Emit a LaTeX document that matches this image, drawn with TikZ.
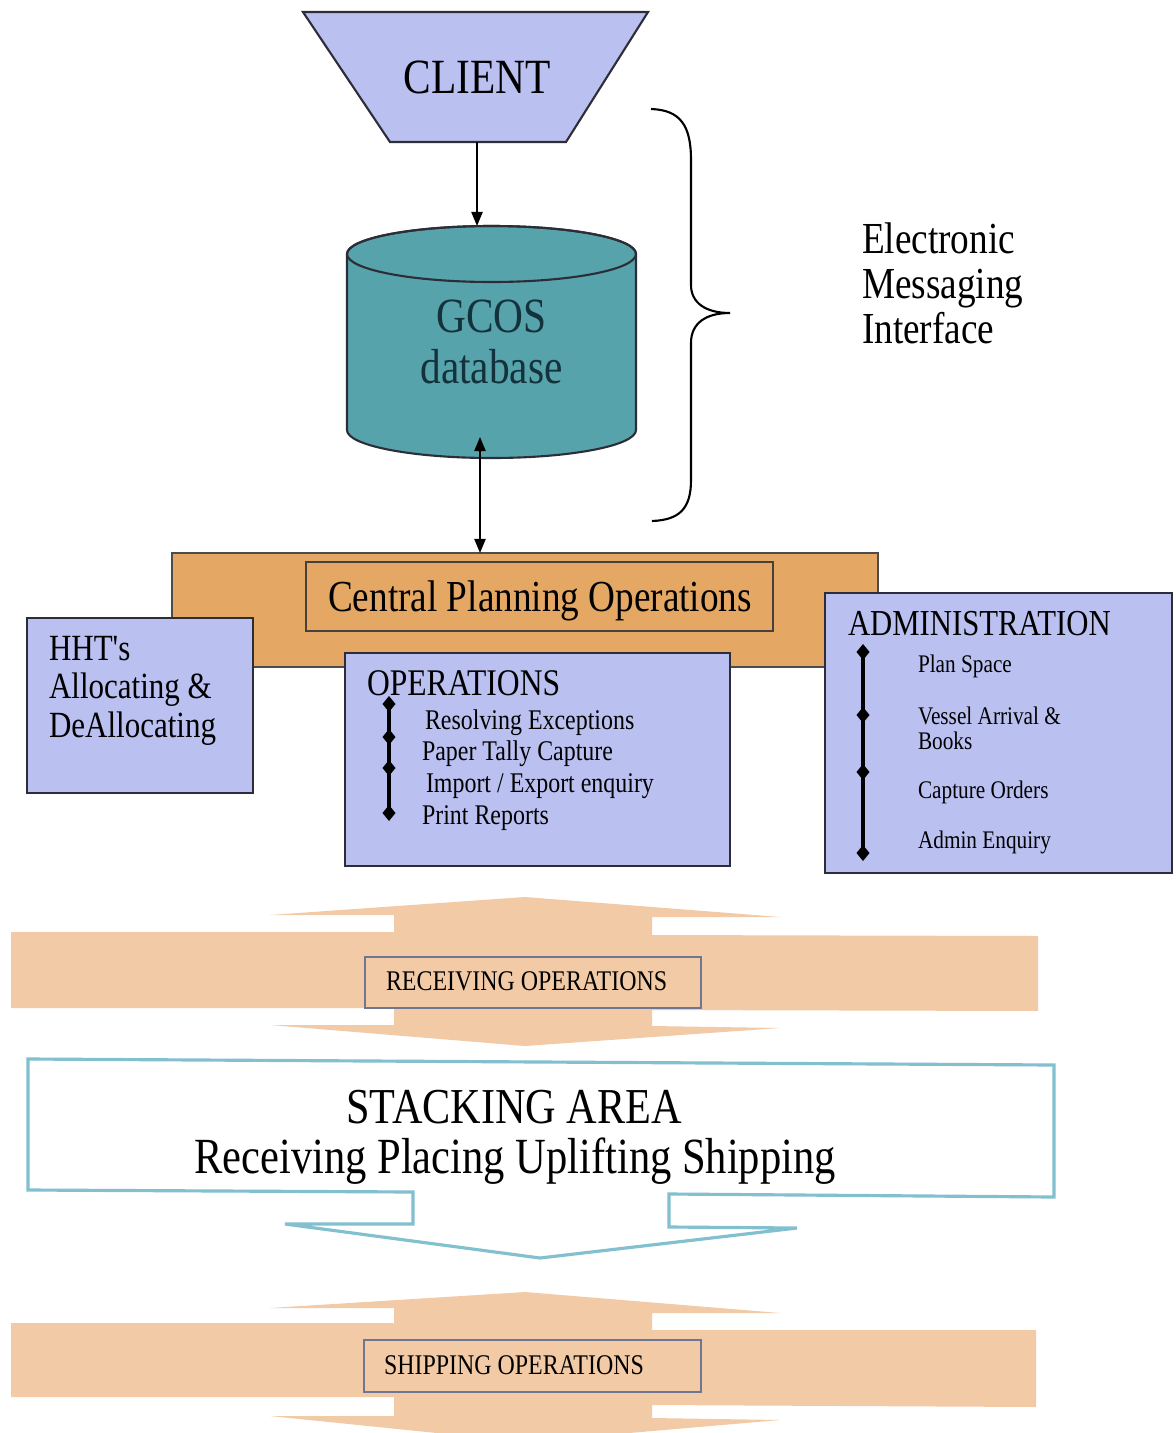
\documentclass[tikz,border=0pt]{standalone}
\usepackage{fontspec}
\setmainfont{Liberation Serif}[FakeStretch=0.84, Ligatures=TeXOff]
\usetikzlibrary{arrows.meta}
\definecolor{lav}{RGB}{186,192,240}
\definecolor{tealdb}{RGB}{86,163,172}
\definecolor{dbtext}{RGB}{20,50,60}
\definecolor{orng}{RGB}{228,168,100}
\definecolor{peach}{RGB}{242,202,166}
\definecolor{sky}{RGB}{130,192,208}
\definecolor{edgec}{RGB}{45,45,55}
\definecolor{lblc}{RGB}{110,118,150}
\newcommand{\fsz}[2]{\fontsize{#1pt}{#2pt}\selectfont}
\begin{document}
\begin{tikzpicture}[x=0.01cm,y=0.01cm,
  box/.style={draw=edgec, line width=0.6pt, fill=lav, inner sep=0pt, outer sep=0pt},
  txt/.style={inner sep=0pt, outer sep=0pt, text=black},
  item/.style={txt, font=\fsz{8.1}{9}},
  aitem/.style={txt, font=\fsz{7.2}{7.1}},
  dmd/.pic={\fill[black] (0,8) -- (6.5,0) -- (0,-8) -- (-6.5,0) -- cycle;},
  arr/.style={-{Triangle[length=4pt,width=3.2pt]}, line width=0.5pt},
  darr/.style={{Triangle[length=4pt,width=3.2pt]}-{Triangle[length=4pt,width=3.2pt]}, line width=0.5pt}]
\useasboundingbox (0,0) rectangle (1176,-1433);
\fill[white] (0,0) rectangle (1176,-1433);
\begin{scope}
\clip (0,0) rectangle (1176,-1433);

% CLIENT
\filldraw[fill=lav, draw=edgec, line width=0.6pt] (303,-12) -- (648,-12) -- (566,-142) -- (390,-142) -- cycle;
\node[minimum width=3.45cm, minimum height=1.30cm, inner sep=0pt, outer sep=0pt, font=\fsz{14}{16}] (client) at (477,-77) {CLIENT};

% GCOS database cylinder
\draw[draw=edgec, fill=tealdb, line width=0.6pt] (347,-254) -- (347,-430)
  arc[start angle=180, end angle=360, x radius=144.5, y radius=28] -- (636,-254)
  arc[start angle=0, end angle=180, x radius=144.5, y radius=28] -- cycle;
\draw[draw=edgec, line width=0.6pt] (491.5,-254) ellipse[x radius=144.5, y radius=28];
\node[minimum width=2.89cm, minimum height=2.32cm, inner sep=0pt, outer sep=0pt, align=center, text=dbtext, font=\fsz{14}{14.5}] (db) at (491.5,-342) {GCOS\\database};

\draw[arr] (client.south) -- (client.south |- db.north);

% brace
\draw[line width=0.6pt] (651,-109) .. controls (680,-110) and (691,-125) .. (691,-160)
  -- (691,-285) .. controls (691,-303) and (706,-313) .. (730,-313)
  .. controls (706,-313) and (691,-323) .. (691,-343)
  -- (691,-480) .. controls (691,-508) and (680,-520) .. (652,-521);
\node[txt, anchor=north west, align=left, font=\fsz{12.6}{12.8}] (emi) at (862,-223) {Electronic\\Messaging\\Interface};

% Central planning
\node[fill=orng, draw=gray!60!black, line width=0.5pt, minimum width=7.06cm, minimum height=1.14cm, inner sep=0pt, outer sep=0pt] (plan) at (525,-610) {};
\node[draw=edgec!85!orng, line width=0.6pt, minimum width=4.67cm, minimum height=0.69cm, inner sep=0pt, outer sep=0pt] (cpo) at (539.5,-596.5) {};
\node[txt, anchor=base, font=\fsz{12.6}{14}] (cpot) at (540,-611) {Central Planning Operations};

\coordinate (dbin) at (480,-437);
\draw[darr] (dbin) -- (dbin |- plan.north);

% HHT
\node[box, minimum width=2.26cm, minimum height=1.75cm] (hht) at (140,-705.5) {};
\node[txt, anchor=north west, align=left, font=\fsz{10.5}{10.95}] (hhtt) at (49,-636) {HHT's\\Allocating \&\\DeAllocating};

% OPERATIONS
\node[box, minimum width=3.85cm, minimum height=2.13cm] (ops) at (537.5,-759.5) {};
\node[txt, anchor=base west, font=\fsz{10.7}{12}] (opst) at (367,-695) {OPERATIONS};
\draw[line width=0.9pt] (389,-704) -- (389,-813);
\foreach \y in {704,737,768,813} \pic at (389,-\y) {dmd};
\node[item, anchor=base west] (o1) at (425,-729) {Resolving Exceptions};
\node[item, anchor=base west] (o2) at (422,-760) {Paper Tally Capture};
\node[item, anchor=base west] (o3) at (426,-792) {Import / Export enquiry};
\node[item, anchor=base west] (o4) at (422,-824) {Print Reports};

% ADMINISTRATION
\node[box, minimum width=3.46cm, minimum height=2.79cm] (adm) at (998.5,-733) {};
\node[txt, anchor=base west, font=\fsz{10.4}{12}] (admt) at (848,-635) {ADMINISTRATION};
\draw[line width=0.9pt] (863,-652) -- (863,-853);
\foreach \y in {652,715,772,853} \pic at (863,-\y) {dmd};
\node[aitem, anchor=base west] (a1) at (918,-672) {Plan Space};
\node[aitem, anchor=north west, align=left] (a2) at (918,-707) {Vessel Arrival \&\\Books};
\node[aitem, anchor=base west] (a3) at (918,-798) {Capture Orders};
\node[aitem, anchor=base west] (a4) at (918,-848) {Admin Enquiry};

% RECEIVING OPERATIONS
\fill[peach] (11,-932) -- (394,-932) -- (394,-915) -- (270,-915) -- (525,-897) -- (780,-917)
  -- (652,-917) -- (652,-935) -- (1038,-936) -- (1038,-1011) -- (652,-1010) -- (652,-1026)
  -- (780,-1028) -- (525,-1046) -- (270,-1025) -- (394,-1025) -- (394,-1008) -- (11,-1008) -- cycle;
\node[draw=lblc, line width=0.6pt, minimum width=3.36cm, minimum height=0.51cm, inner sep=0pt, outer sep=0pt] (rcv) at (533,-982.5) {};
\node[txt, anchor=base west, font=\fsz{8.1}{9}] (rcvt) at (386,-990) {RECEIVING OPERATIONS};

% STACKING AREA
\filldraw[draw=sky, fill=white, line width=0.9pt] (28,-1059) -- (1054,-1065) -- (1054,-1197)
  -- (669,-1194) -- (669,-1227) -- (797,-1228) -- (540,-1258) -- (285,-1224) -- (413,-1224)
  -- (413,-1192) -- (28,-1190) -- cycle;
\node[txt, anchor=base, font=\fsz{14.3}{16}] (stk1) at (514,-1123) {STACKING AREA};
\node[txt, anchor=base, font=\fsz{14.4}{16}] (stk2) at (515,-1173) {Receiving Placing Uplifting Shipping};

% SHIPPING OPERATIONS
\fill[peach] (11,-1323) -- (394,-1323) -- (394,-1308) -- (270,-1308) -- (525,-1292) -- (780,-1313)
  -- (652,-1313) -- (652,-1330) -- (1036,-1330) -- (1036,-1407) -- (652,-1405) -- (652,-1418)
  -- (780,-1420) -- (525,-1442) -- (270,-1416) -- (394,-1416) -- (394,-1397) -- (11,-1397) -- cycle;
\node[draw=lblc, line width=0.6pt, minimum width=3.37cm, minimum height=0.52cm, inner sep=0pt, outer sep=0pt] (shp) at (532.5,-1366) {};
\node[txt, anchor=base west, font=\fsz{8.1}{9}] (shpt) at (384,-1374) {SHIPPING OPERATIONS};
\end{scope}
\end{tikzpicture}
\end{document}
